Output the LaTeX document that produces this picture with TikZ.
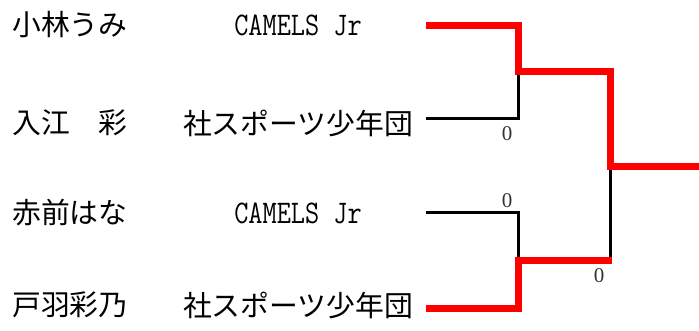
\documentclass[tikz,border=0pt]{standalone}
\usepackage{fontspec}
\usepackage{graphicx}
\newfontfamily\cjk{Noto Sans CJK JP}
\newfontfamily\numfont{Liberation Serif}
\newcommand{\tallcamels}{\scalebox{1}[1.2]{CAMELS Jr}}
\begin{document}
\begin{tikzpicture}[x=1pt,y=-1pt,
  namestyle/.style={anchor=west,inner sep=0pt,font=\cjk\fontsize{28.8}{28.8}\selectfont},
  teamstyle/.style={anchor=center,inner sep=0pt,font=\cjk\fontsize{28.8}{28.8}\selectfont},
  latinteam/.style={anchor=center,inner sep=0pt,font=\ttfamily\fontsize{27.5}{27.5}\selectfont},
  score/.style={inner sep=0pt,font=\numfont\fontsize{21}{21}\selectfont,text=black!80},
  winline/.style={draw=red,line width=7pt,line join=miter},
  loseline/.style={draw=black,line width=3pt,line join=miter}]
\useasboundingbox (0,0) rectangle (699,331);
% players
\node[namestyle] (n1) at (12,25) {小林うみ};
\node[namestyle] (n2) at (12,123) {入江　彩};
\node[namestyle] (n3) at (12,213) {赤前はな};
\node[namestyle] (n4) at (12,305) {戸羽彩乃};
% teams
\node[latinteam] (t1) at (298,25) {\tallcamels};
\node[teamstyle] (t2) at (298,123) {社スポーツ少年団};
\node[latinteam] (t3) at (298,213) {\tallcamels};
\node[teamstyle] (t4) at (298,305) {社スポーツ少年団};
% bracket coordinates
\coordinate (a1) at (426,26);
\coordinate (a2) at (426,119);
\coordinate (a3) at (426,213);
\coordinate (a4) at (426,308);
\coordinate (m1) at (518,72);
\coordinate (m2) at (518,261);
\coordinate (f1) at (610,167);
\coordinate (fend) at (699,167);
\coordinate (m2end) at (612,261);
% losing lines
\draw[loseline] (a2) -| (m1);
\draw[loseline] (a3) -| (m2);
\draw[loseline] (m2end -| f1) -- (f1);
% winning lines
\draw[winline] (a1) -| (m1) -| (f1) -- (fend);
\draw[winline] (a4) -| (m2) -- (m2end);
% scores
\node[score] (s1) at (507,134) {0};
\node[score] (s2) at (507,201) {0};
\node[score] (s3) at (599,276) {0};
\end{tikzpicture}
\end{document}
